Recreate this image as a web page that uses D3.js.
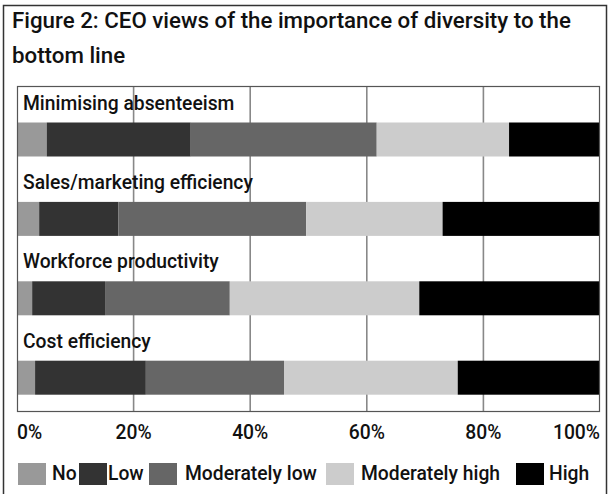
<!DOCTYPE html>
<html>
<head>
<meta charset="utf-8">
<script src="https://cdn.jsdelivr.net/npm/d3@7/dist/d3.min.js"></script>
<style>
  html, body { margin: 0; padding: 0; background: #fff; }
  svg { display: block; }
  text { font-family: Roboto, "Liberation Sans", Arial, sans-serif; font-weight: 500; fill: #111; }
</style>
</head>
<body>
<svg id="chart" width="608" height="494"></svg>
<script>
const titleLines = ["Figure 2: CEO views of the importance of diversity to the", "bottom line"];
const categories = ["Minimising absenteeism", "Sales/marketing efficiency", "Workforce productivity", "Cost efficiency"];
const seriesNames = ["No", "Low", "Moderately low", "Moderately high", "High"];
const seriesColors = ["#999999", "#333333", "#666666", "#cccccc", "#000000"];
const valNo = [5.1, 3.8, 2.6, 3.1];
const valLow = [24.7, 13.6, 12.5, 19.0];
const valModLow = [31.9, 32.2, 21.4, 23.7];
const valModHigh = [22.7, 23.4, 32.5, 29.8];
const valHigh = [15.6, 27.0, 31.0, 24.4];
const tickValues = [0, 20, 40, 60, 80, 100];
const tickLabels = ["0%", "20%", "40%", "60%", "80%", "100%"];

const seriesValues = [valNo, valLow, valModLow, valModHigh, valHigh];
const rows = categories.map((c, i) => {
  const r = { category: c };
  seriesNames.forEach((s, j) => r[s] = seriesValues[j][i]);
  return r;
});

const svg = d3.select("#chart");
const plot = { left: 17, right: 600, top: 86, bottom: 411 };
const fs = 19.3;

// outer frame
svg.append("rect").attr("x", 3.5).attr("y", 5.5).attr("width", 603).attr("height", 500)
  .attr("fill", "none").attr("stroke", "#333").attr("stroke-width", 1.5);

// title
svg.append("g").selectAll("text").data(titleLines).join("text")
  .attr("x", 12).attr("y", (d, i) => 28 + i * 34.5)
  .attr("font-size", 22.3)
  .text(d => d);

const x = d3.scaleLinear().domain([0, 100]).range([plot.left, plot.right]);
const y = d3.scaleBand().domain(categories).range([90, 407.6]);
const barOffset = 32.5, barH = 34;

// gridlines
svg.append("g").selectAll("line").data(tickValues.slice(1, -1)).join("line")
  .attr("x1", d => x(d)).attr("x2", d => x(d))
  .attr("y1", plot.top).attr("y2", plot.bottom)
  .attr("stroke", "#888").attr("stroke-width", 1.6);

// bars
const stack = d3.stack().keys(seriesNames)(rows);
svg.append("g").selectAll("g").data(stack).join("g")
  .attr("fill", (d, i) => seriesColors[i])
  .selectAll("rect").data(d => d).join("rect")
  .attr("x", d => x(d[0]))
  .attr("width", d => x(d[1]) - x(d[0]))
  .attr("y", d => y(d.data.category) + barOffset)
  .attr("height", barH);

// category labels
svg.append("g").selectAll("text").data(categories).join("text")
  .attr("x", plot.left + 6)
  .attr("y", d => y(d) + barOffset - 13)
  .attr("font-size", fs)
  .text(d => d);

// plot frame
svg.append("rect").attr("x", plot.left + 0.5).attr("y", plot.top + 0.5)
  .attr("width", plot.right - plot.left - 1).attr("height", plot.bottom - plot.top)
  .attr("fill", "none").attr("stroke", "#555").attr("stroke-width", 1.2);

// x tick labels
svg.append("g").selectAll("text").data(tickValues).join("text")
  .attr("x", d => x(d))
  .attr("y", 439)
  .attr("text-anchor", (d, i) => i === 0 ? "start" : (i === tickValues.length - 1 ? "end" : "middle"))
  .attr("font-size", fs)
  .text((d, i) => tickLabels[i]);

// legend
const legendX = [18, 79, 149, 326, 516];
const legendTextDx = [34, 29, 36, 35, 33];
const lg = svg.append("g").selectAll("g").data(seriesNames).join("g")
  .attr("transform", (d, i) => `translate(${legendX[i]},463)`);
lg.append("rect").attr("width", 28).attr("height", 22).attr("fill", (d, i) => seriesColors[i]);
lg.append("text").attr("x", (d, i) => legendTextDx[i]).attr("y", 17)
  .attr("font-size", fs).text(d => d);
</script>
</body>
</html>
